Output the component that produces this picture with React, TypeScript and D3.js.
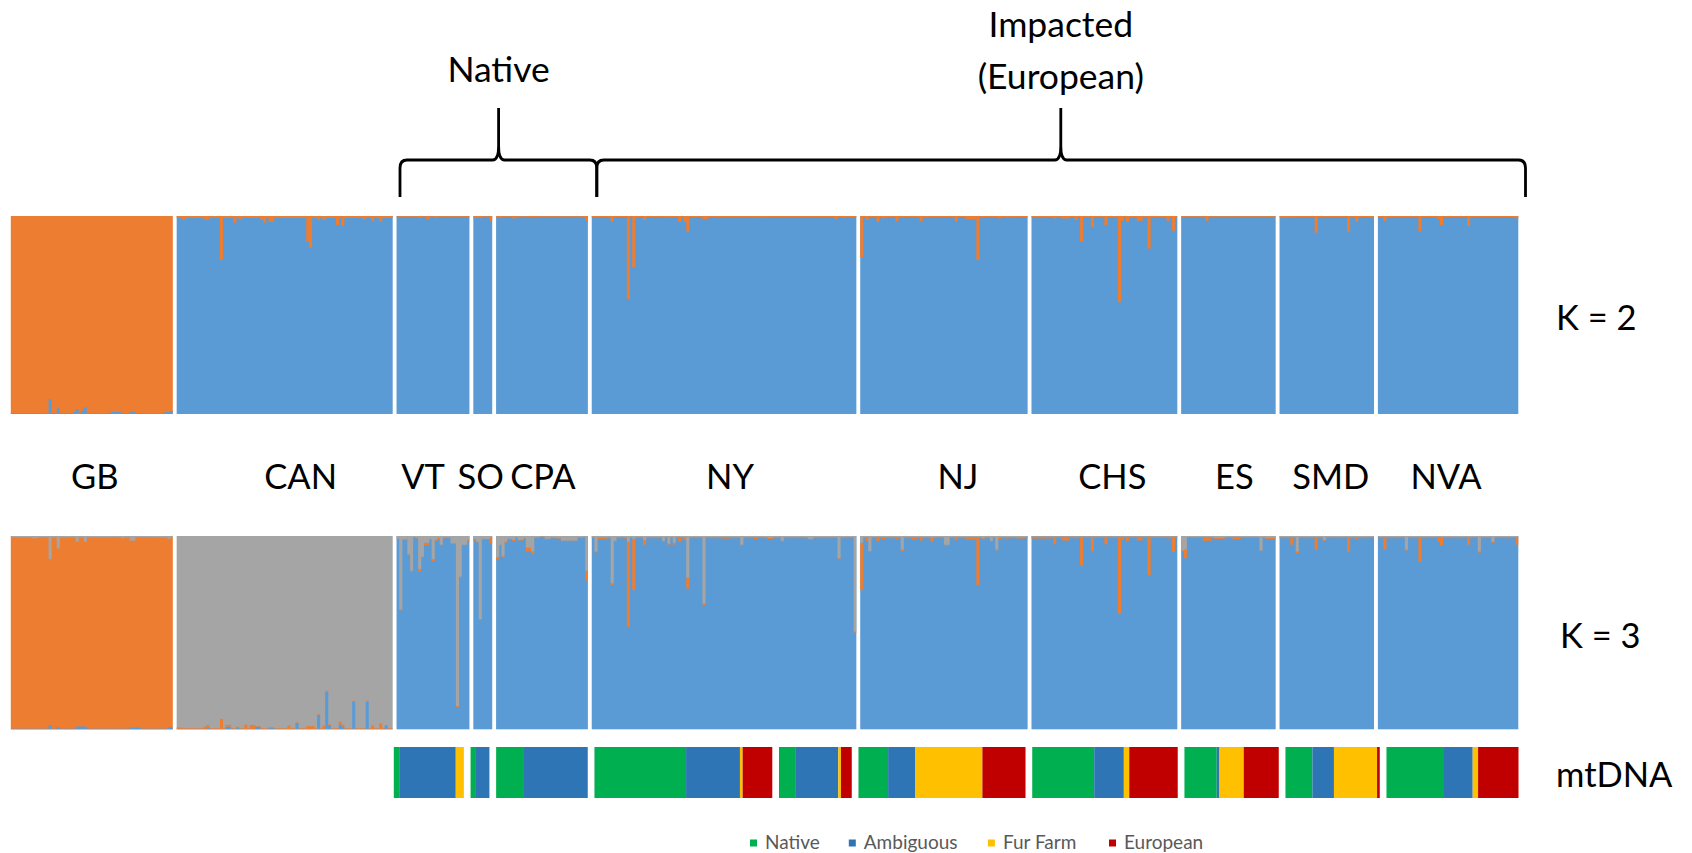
import React from "react";
import * as d3 from "d3";

// ---------------- DATA ----------------
const POPS = ["GB", "CAN", "VT", "SO", "CPA", "NY", "NJ", "CHS", "ES", "SMD", "NVA"];

// K = 2 : minor cluster membership (%) per individual
const k2Blue_GB = [0.5,0.5,0.5,0.3,0.5,0.3,0.5,0.3,0.3,0.5, 0.3,0.3,0.3,0.5,7.4,0.5,0.5,2.9,0.5,0.3, 0.5,0.5,0.3,1,2.5,0.5,1.7,3.4,0.5,0.3, 0.3,0.3,0.3,0.3,0.3,0.5,0.5,1,1,1, 1,0.5,0.3,0.5,1.2,1.2,0.5,0.5,0.3,0.3, 0.3,0.3,0.3,0.3,0.3,0.3,0.5,1,1,1.5];
const k2Orange_CAN = [1,1,2,1,1,1,1,1,1,1, 2,2,1,1,1,1,22,1,1,1, 1,3.4,1,1.7,1,1,1,1,1,1, 1,2,3.4,1,2.9,2.9,1,1,1,1, 1,1,1,1,1,1,1,1,13,16, 1,1,2,1,2,1,1,1,1,4.5, 1,5,1,1,1,1,1,1,1,1.7, 1,1,2.4,1,1,2.9,1,1,1,1];
const k2Orange_VT = [0.4,0.4,0.4,0.4,0.4,0.4,0.4,0.4,0.8,0.4, 0.4,1.7,0.4,0.4,0.8,0.4,0.4,0.4,0.4,0.4, 0.4,0.4,0.4,0.4,0.4,0.4,0.4];
const k2Orange_SO = [1,1,1,0.4,0.4,0.4,2.4];
const k2Orange_CPA = [0.7,0.7,0.4,0.4,0.4,0.4,1.2,0.5,0.4,0.4, 0.4,0.4,0.5,0.5,0.5,0.4,0.4,0.4,0.4,0.4, 0.4,0.4,0.4,0.4,0.4,0.4,0.4,0.4,0.4,0.4, 0.4,0.4,0.8,2.4];
const k2Orange_NY = [0.7,0.5,0.5,0.5,0.5,0.5,0.5,2.7,0.5,0.5, 0.5,0.5,0.5,42,0.5,26,0.7,0.5,0.5,2, 0.5,0.5,0.5,0.5,0.5,0.5,0.5,0.7,0.5,0.5, 0.5,0.5,3,0.5,3,8,0.5,0.5,0.5,0.5, 0.5,1.5,1.5,0.5,0.5,0.5,0.5,0.5,0.5,0.5, 0.5,0.5,0.5,0.5,0.5,0.5,0.5,0.5,0.5,0.5, 0.5,0.5,0.7,0.5,0.5,0.5,0.5,0.5,0.5,0.5, 0.5,0.5,0.5,0.5,0.5,0.5,0.5,0.5,0.5,0.5, 0.5,0.5,0.5,0.5,0.5,0.5,0.5,0.5,0.5,0.5, 1.5,0.5,0.5,1,0.5,0.5,0.5,0.5];
const k2Orange_NJ = [21,0.5,2,0.5,0.5,0.5,3,0.5,1.2,0.5, 0.5,0.5,0.5,2.7,0.5,0.5,0.5,0.5,0.5,0.5, 0.5,0.5,2.7,0.5,0.5,0.5,0.5,0.5,0.5,0.5, 0.5,0.5,0.5,0.5,0.5,2.7,0.5,0.5,0.5,1.7, 1.7,1.7,1.7,22,0.5,0.5,0.5,0.5,0.5,0.5, 0.5,1.2,0.5,0.5,0.8,0.5,0.5,0.5,0.5,0.5, 0.5,0.5];
const k2Orange_CHS = [0.6,0.6,0.6,0.6,0.5,0.6,0.6,0.6,1.2,0.6, 0.6,1.2,1.2,1.2,0.6,0.6,2,0.6,13,0.6, 0.6,0.6,5.7,0.6,0.6,0.6,0.6,4.7,0.6,0.6, 0.6,0.6,43.5,2.5,0.6,2.9,0.6,0.6,0.6,2.4, 2.4,0.6,0.6,16.5,0.6,0.6,0.6,0.6,0.6,0.6, 2.4,0.6,7.4,0.6];
const k2Orange_ES = [0.4,0.4,0.4,0.4,0.4,0.4,0.4,0.4,0.4,2.4, 0.4,0.4,0.4,0.4,0.4,0.4,0.4,0.4,0.4,0.4, 0.4,0.4,0.4,0.4,0.4,0.4,0.4,0.4,0.4,0.4, 0.4,0.4,0.4,0.4,0.4];
const k2Orange_SMD = [0.7,0.7,0.7,0.7,0.7,0.5,0.5,0.5,0.5,0.5, 0.5,0.5,0.5,8.4,0.5,0.5,0.5,0.5,0.5,0.5, 0.5,0.5,0.5,0.5,0.5,7.9,0.5,0.5,2.9,0.5, 0.5,0.5,0.5,0.5,0.5];
const k2Orange_NVA = [0.5,0.5,2.4,0.5,0.5,0.5,0.5,0.5,0.5,0.5, 0.5,0.5,0.5,0.5,0.5,7.9,0.5,0.5,0.5,0.5, 0.5,0.5,1.7,4.5,0.5,0.5,0.5,0.5,0.5,0.5, 0.5,0.5,0.5,5,0.5,0.5,0.5,0.5,0.5,0.5, 0.5,0.5,0.5,0.5,0.5,0.5,0.5,0.5,0.5,0.5, 0.5,1.2];

// K = 3 : minor clusters (%) per individual
const k3Blue_GB = [0.3,0.3,0.3,0.3,0.3,0.3,0.3,0.3,0.3,0.3, 0.3,0.3,0.3,0.3,2.2,0.3,0.3,1,0.3,0.3, 0.3,0.3,0.3,0.3,1.4,1.4,1.4,1.4,0.3,0.3, 0.3,0.3,0.3,0.3,0.3,0.3,0.3,0.3,0.3,0.3, 0.3,0.3,0.3,0.3,0.9,0.9,0.9,0.9,0.3,0.3, 0.3,0.3,0.3,0.3,0.3,0.3,0.3,0.3,1,1];
const k3Gray_GB = [0.7,0.7,0.7,0.7,0.7,0.7,0.7,0.7,1.2,1.2, 0.7,0.7,0.7,0.7,12,0.7,0.7,6.4,0.7,0.7, 0.7,0.7,0.7,0.7,3,0.7,0.7,3,0.7,0.7, 0.7,0.7,0.7,0.7,0.7,0.7,0.7,0.7,0.7,0.7, 0.7,1.2,0.7,0.7,2.4,2.4,0.7,0.7,0.7,0.7, 0.7,0.7,0.7,0.7,0.7,0.7,0.7,0.7,1.5,0.7];
const k3Blue_CAN = [0.2,0.2,0.2,0.2,0.2,0.2,0.2,0.2,0.2,0.2, 0.2,1,0.2,0.2,0.2,0.2,0.2,0.2,1.4,1.4, 0.2,0.2,1,0.2,0.2,0.2,0.2,0.2,0.2,1.4, 1.4,0.2,0.2,0.2,0.7,0.7,0.2,0.2,0.2,0.2, 0.2,0.2,0.2,0.2,3.4,0.2,0.2,0.2,0.2,0.2, 0.2,0.2,7.4,0.2,0.2,19.5,2.2,0.2,0.2,0.2, 2.5,1.4,0.2,0.2,0.2,14.3,0.2,0.2,0.2,0.2, 14.3,0.2,0.2,0.2,0.2,0.2,0.2,1.8,0.2,0.2];
const k3Orange_CAN = [0.7,0.7,0.3,0.3,0.3,0.3,0.3,0.3,0.3,0.3, 1.2,1.2,0.3,0.3,0.3,0.3,5.2,0.3,0.9,0.9, 0.3,0.3,0.3,0.3,0.3,2.2,0.3,2,2,0.3, 0.3,0.3,0.3,0.3,0.3,0.3,0.3,0.3,0.3,0.3, 0.3,1.7,0.3,0.3,0.3,0.3,0.3,0.3,1.4,1.4, 1.4,0.3,0.4,0.3,1.7,0.5,0.3,0.3,0.3,0.3, 1.4,0.9,0.3,0.3,0.3,0.5,0.3,0.3,0.3,0.3, 0.5,0.3,1.7,0.3,0.3,2.8,0.3,0.4,0.3,0.3];
const k3Gray_VT = [1.4,38,1.7,1.7,9.5,18,0.5,1,17,10.7, 3.5,3.5,1.5,12,2,1,4.5,0.8,0.8,0.8, 3.8,3.8,88,21,4.5,4.5,2];
const k3Orange_VT = [0.3,0.5,0.3,0.5,0.5,0.5,0.5,0.3,1.4,0.3, 1.4,1.4,0.5,1,0.5,0.5,0.3,0.5,0.3,0.3, 0.3,0.3,0.5,0.5,0.3,0.3,0.5];
const k3Gray_SO = [1.5,3,43,1.5,1.5,1.5,0.5];
const k3Orange_SO = [0.8,0.3,0.5,0.3,0.3,0.3,3.5];
const k3Gray_CPA = [11,4.5,10.5,3,1.4,1.4,2,0.7,2,2, 1,6,6,8,0.8,0.8,0.3,0.3,1.4,1.4, 0.8,0.8,1,1,2.4,2.4,2.4,2.4,2.4,2.4, 0.8,0.8,0.5,18];
const k3Orange_CPA = [1,0.5,0.5,0.5,0.5,0.5,0.8,0.3,0.3,0.3, 0.3,2,2,1.4,0.3,0.3,0.3,0.3,0.5,0.5, 0.3,0.3,0.3,0.3,0.3,0.3,0.3,0.3,0.3,0.3, 0.3,0.3,0.3,5.2];
const k3Gray_NY = [0.6,8,0.8,0.8,0.8,0.8,0.6,24.5,2.5,0.6, 0.6,0.6,0.8,3,0.6,1.5,0.6,0.6,0.6,2, 0.6,0.6,0.6,0.6,0.6,0.6,2.5,0.6,4,0.6, 3.5,0.6,0.6,0.6,0.6,21.5,0.6,0.6,0.6,0.6, 0.6,35,0.6,0.6,0.6,0.6,0.6,0.6,0.6,0.6, 0.6,0.6,0.6,0.6,0.6,4.5,0.6,0.6,0.6,0.6, 0.6,0.6,0.6,0.6,0.6,1,1,0.6,0.6,0.6, 2.5,0.6,0.6,0.6,0.6,0.6,0.6,0.6,0.6,0.6, 1.5,1.5,0.6,0.6,0.6,0.6,0.6,0.6,0.6,0.6, 0.6,11.5,0.6,0.6,0.6,0.6,0.6,49.5];
const k3Orange_NY = [0.5,0.5,0.7,0.7,0.7,0.5,0.5,1,0.5,0.5, 0.5,0.5,0.5,44,0.5,26.5,0.5,0.5,0.5,2.5, 0.5,0.5,0.5,0.5,0.5,0.5,0.5,0.5,0.5,0.5, 1,0.5,2.5,0.5,1.5,5.7,0.5,0.5,0.5,0.5, 0.5,1,0.5,0.5,0.5,0.5,0.5,0.5,0.7,0.7, 0.7,0.5,0.5,0.5,0.5,0.5,0.5,0.5,0.5,0.5, 1,0.5,0.5,0.5,0.5,0.5,0.5,0.5,0.5,0.5, 0.5,0.5,0.5,0.5,0.5,0.5,0.5,0.5,0.5,0.5, 0.5,0.5,0.5,0.5,0.5,0.5,0.5,0.5,0.5,0.5, 0.5,0.5,0.5,0.5,0.5,0.5,0.5,0.5];
const k3Gray_NJ = [3.5,0.6,0.6,7.8,0.6,0.6,0.6,0.6,0.6,0.6, 0.6,0.6,0.6,0.6,0.6,7,0.6,0.6,0.6,0.6, 0.6,0.6,0.6,0.6,0.6,0.6,1,0.6,0.6,0.6, 0.6,4.5,4.5,0.6,0.6,0.6,0.6,0.6,0.6,0.6, 0.6,0.6,0.6,0.6,0.6,1.2,0.6,0.6,2.5,0.6, 7,0.6,0.6,0.6,0.8,0.6,0.6,0.6,0.8,0.8, 0.8,0.6];
const k3Orange_NJ = [24.5,0.5,2.2,0.5,0.5,0.5,2,0.5,1,0.5, 0.5,0.5,0.5,1.2,0.5,1,0.5,0.5,0.5,1.2, 1.2,0.5,1.7,0.5,0.5,0.5,2,0.5,0.5,0.5, 0.5,0.5,0.5,0.5,0.5,1.7,0.5,0.5,0.5,1.2, 1.2,1.2,1.2,25,0.5,0.5,0.5,0.5,0.5,0.5, 0.5,1.2,0.5,0.5,0.5,0.5,0.5,0.5,0.5,0.5, 0.5,0.5];
const k3Gray_CHS = [0.3,0.3,0.3,0.3,0.3,0.3,0.3,0.3,0.3,0.3, 0.3,0.3,0.3,0.3,0.3,0.3,0.3,0.3,0.3,0.3, 0.3,0.3,0.3,0.3,0.3,0.3,0.3,0.3,0.3,0.3, 0.3,0.3,0.3,0.3,0.3,0.3,0.3,0.3,0.3,0.3, 0.3,0.3,0.3,0.3,0.3,0.3,0.3,0.3,0.3,0.3, 0.3,0.3,0.3,0.3];
const k3Orange_CHS = [1,1,1,1,1,1,1,0.7,4,0.7, 0.7,2,2,2,0.7,0.7,1,0.7,15,0.7, 0.7,0.7,7.5,0.7,0.7,0.7,0.7,4,0.7,0.7, 0.7,0.7,40,1.7,0.7,2.2,0.7,0.7,0.7,2, 2,0.7,0.7,20,0.7,0.7,0.7,0.7,0.7,0.7, 1,0.7,7.8,0.7];
const k3Gray_ES = [7.5,7,0.5,0.5,0.5,0.5,0.5,0.5,0.5,0.5, 0.5,0.5,1,1,1,1,0.5,0.5,0.5,0.5, 0.5,0.5,0.5,0.5,0.5,0.5,0.5,0.5,0.5,7.5, 0.5,1,1,1,1];
const k3Orange_ES = [0.5,4.5,0.5,0.5,0.5,0.5,0.5,0.5,2,2, 2,0.5,0.5,0.5,0.5,0.5,0.5,0.5,0.5,1.2, 1.2,1.2,0.5,0.5,0.5,0.5,0.5,0.5,0.5,0.5, 0.5,0.5,0.5,0.5,0.5];
const k3Gray_SMD = [0.5,0.5,0.5,0.5,0.5,0.5,8,0.5,0.5,0.5, 0.5,0.5,0.5,0.5,0.5,0.5,2,0.5,0.5,0.5, 0.5,0.5,0.5,0.5,0.5,0.5,0.5,0.5,0.5,0.5, 0.5,0.5,0.5,0.5,0.5];
const k3Orange_SMD = [0.6,0.6,0.6,0.6,4,0.6,1,0.6,0.6,0.6, 0.6,0.6,0.6,6.5,0.6,0.6,0.6,0.6,0.6,0.6, 0.6,0.6,0.6,0.6,0.6,7.8,0.6,0.6,1.2,0.6, 0.6,0.6,0.6,0.6,0.6];
const k3Gray_NVA = [0.5,0.5,0.5,0.5,0.5,0.5,0.5,0.5,0.5,0.5, 7,0.5,0.5,0.5,0.5,0.5,0.5,0.5,0.5,0.5, 0.5,0.5,0.5,0.5,0.5,0.5,0.5,0.5,0.5,0.5, 0.5,0.5,0.5,0.5,0.5,0.5,0.5,8,0.5,0.5, 0.5,0.5,3,0.5,0.5,0.5,0.5,0.5,0.5,0.5, 0.5,0.5];
const k3Orange_NVA = [0.6,0.6,6.5,0.6,0.6,0.6,0.6,0.6,0.6,0.6, 0.6,0.6,0.6,0.6,0.6,13,0.6,0.6,0.6,0.6, 0.6,0.6,2.5,4.5,0.6,0.6,0.6,0.6,0.6,0.6, 0.6,0.6,0.6,4,0.6,0.6,0.6,0.6,0.6,0.6, 0.6,0.6,0.6,0.6,0.6,0.6,0.6,0.6,0.6,0.6, 0.6,4];

// mtDNA haplotype counts per sampled block
const MT_BLOCKS = ["VT", "SO", "CPA", "NY", "NY", "NJ", "CHS", "ES", "SMD", "NVA"];
const mtNative = [2, 2, 10, 34, 6, 11, 23, 12, 10, 21];
const mtAmbiguous = [21, 5, 24, 20, 16, 10, 11, 1, 8, 11];
const mtFurFarm = [3, 0, 0, 1, 1, 25, 2, 9, 16, 2];
const mtEuropean = [0, 0, 0, 11, 4, 16, 18, 13, 1, 15];
const MT_CATS = ["Native", "Ambiguous", "Fur Farm", "European"];

// ---------------- TABLES ----------------
type Cl = "blue" | "orange" | "gray";
type Entry = { dominant: Cl; minor: Partial<Record<Cl, number[]>> };
const K2_TABLE: Entry[] = [
  { dominant: "orange", minor: { blue: k2Blue_GB } },
  { dominant: "blue", minor: { orange: k2Orange_CAN } },
  { dominant: "blue", minor: { orange: k2Orange_VT } },
  { dominant: "blue", minor: { orange: k2Orange_SO } },
  { dominant: "blue", minor: { orange: k2Orange_CPA } },
  { dominant: "blue", minor: { orange: k2Orange_NY } },
  { dominant: "blue", minor: { orange: k2Orange_NJ } },
  { dominant: "blue", minor: { orange: k2Orange_CHS } },
  { dominant: "blue", minor: { orange: k2Orange_ES } },
  { dominant: "blue", minor: { orange: k2Orange_SMD } },
  { dominant: "blue", minor: { orange: k2Orange_NVA } },
];
const K3_TABLE: Entry[] = [
  { dominant: "orange", minor: { blue: k3Blue_GB, gray: k3Gray_GB } },
  { dominant: "gray", minor: { blue: k3Blue_CAN, orange: k3Orange_CAN } },
  { dominant: "blue", minor: { orange: k3Orange_VT, gray: k3Gray_VT } },
  { dominant: "blue", minor: { orange: k3Orange_SO, gray: k3Gray_SO } },
  { dominant: "blue", minor: { orange: k3Orange_CPA, gray: k3Gray_CPA } },
  { dominant: "blue", minor: { orange: k3Orange_NY, gray: k3Gray_NY } },
  { dominant: "blue", minor: { orange: k3Orange_NJ, gray: k3Gray_NJ } },
  { dominant: "blue", minor: { orange: k3Orange_CHS, gray: k3Gray_CHS } },
  { dominant: "blue", minor: { orange: k3Orange_ES, gray: k3Gray_ES } },
  { dominant: "blue", minor: { orange: k3Orange_SMD, gray: k3Gray_SMD } },
  { dominant: "blue", minor: { orange: k3Orange_NVA, gray: k3Gray_NVA } },
];

// ---------------- STYLE / LAYOUT ----------------
const COLORS: Record<Cl, string> = { blue: "#5B9BD5", orange: "#ED7D31", gray: "#A5A5A5" };
const MT_COLORS = ["#00B050", "#2E75B6", "#FFC000", "#C00000"];
const FONT = "Lato, 'Open Sans', sans-serif";
const BIG = 34.5;
const TITLE = 35.5;
const W = 1692, H = 853;
const X0 = 10.8, X1 = 1518.3, GAP_UNITS = 1.43;
const K2_Y = [216, 414];
const K3_Y = [536, 729.3];
const MT_X = [393.8, 1518.5], MT_Y = [747, 798], MT_GAP_UNITS = 2.49;
const LABEL_DX = [3, 16, -10, -2, 1, 6, 14, 8, 6, 4, -2];
const LEGEND_X = [750, 848.8, 987.9, 1109];

function buildRows(entry: Entry) {
  const first = Object.values(entry.minor)[0] as number[];
  return first.map((_, i) => {
    const row: Record<Cl, number> = { blue: 0, orange: 0, gray: 0 };
    let s = 0;
    (Object.keys(entry.minor) as Cl[]).forEach((k) => {
      row[k] = (entry.minor[k] as number[])[i];
      s += row[k];
    });
    row[entry.dominant] = 100 - s;
    return row;
  });
}

function Panel({ table, keys, yr, xs, starts }: any) {
  const y = d3.scaleLinear().domain([0, 100]).range([yr[1], yr[0]]);
  const stack = d3.stack<Record<Cl, number>>().keys(keys);
  const out: any[] = [];
  table.forEach((entry: Entry, p: number) => {
    const rows = buildRows(entry);
    const n = rows.length;
    const xa0 = xs(starts[p]);
    const xb0 = xs(starts[p] + n);
    out.push(
      <rect key={`bg-${p}`} x={xa0} y={y(100)} width={xb0 - xa0} height={y(0) - y(100)}
        fill={COLORS[entry.dominant]} />
    );
    const series = stack(rows);
    series.forEach((s) => {
      if (s.key === entry.dominant) return;
      s.forEach((d, i) => {
        const h = y(d[0]) - y(d[1]);
        if (h <= 0) return;
        const xa = xs(starts[p] + i);
        const xb = xs(starts[p] + i + 1);
        out.push(
          <rect key={`${p}-${s.key}-${i}`} x={xa} y={y(d[1])}
            width={Math.min(xb + 0.4, xb0) - xa} height={h}
            fill={COLORS[s.key as Cl]} />
        );
      });
    });
  });
  return <g>{out}</g>;
}

function bracePath(x0: number, tip: number, x1: number) {
  const yb = 197, yl = 160, yt = 108;
  const p = d3.path();
  p.moveTo(x0, yb);
  p.lineTo(x0, yl + 8);
  p.quadraticCurveTo(x0, yl, x0 + 7, yl);
  p.lineTo(tip - 6, yl);
  p.quadraticCurveTo(tip, yl, tip, yl - 14);
  p.lineTo(tip, yt);
  p.moveTo(tip, yl - 14);
  p.quadraticCurveTo(tip, yl, tip + 6, yl);
  p.lineTo(x1 - 7, yl);
  p.quadraticCurveTo(x1, yl, x1, yl + 8);
  p.lineTo(x1, yb);
  return p.toString();
}

export default function App() {
  const counts = K2_TABLE.map((e) => (Object.values(e.minor)[0] as number[]).length);
  const starts: number[] = [];
  let acc = 0;
  counts.forEach((c) => { starts.push(acc); acc += c + GAP_UNITS; });
  const total = acc - GAP_UNITS;
  const xs = d3.scaleLinear().domain([0, total]).range([X0, X1]);

  const mtTotals = MT_BLOCKS.map((_, i) => mtNative[i] + mtAmbiguous[i] + mtFurFarm[i] + mtEuropean[i]);
  const mtStarts: number[] = [];
  let macc = 0;
  mtTotals.forEach((t) => { mtStarts.push(macc); macc += t + MT_GAP_UNITS; });
  const mxs = d3.scaleLinear().domain([0, macc - MT_GAP_UNITS]).range(MT_X);
  const mtRects: any[] = [];
  MT_BLOCKS.forEach((b, i) => {
    const vals = [mtNative[i], mtAmbiguous[i], mtFurFarm[i], mtEuropean[i]];
    let c = mtStarts[i];
    vals.forEach((v, j) => {
      if (v > 0) {
        mtRects.push(
          <rect key={`mt-${i}-${j}`} x={mxs(c)} y={MT_Y[0]} width={mxs(c + v) - mxs(c)}
            height={MT_Y[1] - MT_Y[0]} fill={MT_COLORS[j]} />
        );
      }
      c += v;
    });
  });

  const nativeTip = 498.6, impTip = 1060.8;
  const natL = 400, natR = 596.8, impR = 1525.5;

  return (
    <svg width={W} height={H} style={{ position: "absolute", left: 0, top: 0, background: "#fff" }}
      fontFamily={FONT}>
      <rect x={0} y={0} width={W} height={H} fill="#fff" />
      <path d={bracePath(natL, nativeTip, natR)} fill="none" stroke="#000" strokeWidth={2.8} />
      <path d={bracePath(natR, impTip, impR)} fill="none" stroke="#000" strokeWidth={2.8} />
      <text x={nativeTip} y={82} fontSize={TITLE} textAnchor="middle">Native</text>
      <text x={impTip} y={37} fontSize={TITLE} textAnchor="middle">Impacted</text>
      <text x={impTip} y={89} fontSize={TITLE} textAnchor="middle">(European)</text>

      <Panel table={K2_TABLE} keys={["blue", "orange"]} yr={K2_Y} xs={xs} starts={starts} />
      <Panel table={K3_TABLE} keys={["blue", "orange", "gray"]} yr={K3_Y} xs={xs} starts={starts} />

      {POPS.map((p, i) => (
        <text key={p} x={(xs(starts[i]) + xs(starts[i] + counts[i])) / 2 + LABEL_DX[i]} y={489}
          fontSize={BIG} textAnchor="middle">{p}</text>
      ))}

      <text x={1556} y={330} fontSize={BIG}>K = 2</text>
      <text x={1560} y={648} fontSize={BIG}>K = 3</text>

      {mtRects}
      <text x={1556} y={787} fontSize={BIG}>mtDNA</text>

      {MT_CATS.map((c, i) => (
        <g key={c}>
          <rect x={LEGEND_X[i]} y={839.5} width={7} height={7} fill={MT_COLORS[i]} />
          <text x={LEGEND_X[i] + 15} y={849} fontSize={19} fill="#595959">{c}</text>
        </g>
      ))}
    </svg>
  );
}
